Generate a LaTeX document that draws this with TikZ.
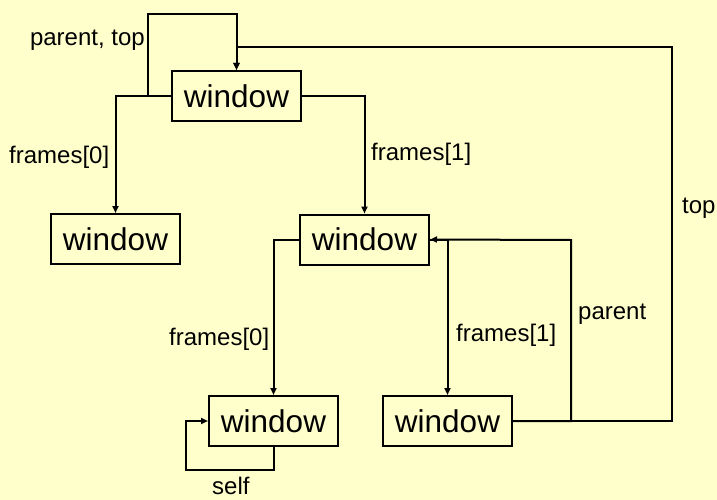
\documentclass[tikz,border=0pt]{standalone}
\usepackage{fontspec}
\setmainfont{Liberation Sans}
\usetikzlibrary{arrows.meta}
\definecolor{bgyellow}{HTML}{FFFFCC}
\begin{document}
\begin{tikzpicture}[x=1pt,y=-1pt,
  win/.style={draw,line width=2pt,minimum width=129pt,minimum height=50pt,inner sep=0pt,font=\fontsize{31.5}{36}\selectfont},
  lbl/.style={inner sep=0pt,anchor=base west,font=\fontsize{24}{28}\selectfont},
  conn/.style={line width=2pt},
  arr/.style={conn,-{Triangle[width=6pt,length=7pt]}}]
\fill[bgyellow] (0,0) rectangle (717,500);
\useasboundingbox (0,0) rectangle (717,500);
\clip (0,0) rectangle (717,500);
\node[win] (T) at (236.5,96) {window};
\node[win] (L) at (115.5,239) {window};
\node[win] (M) at (364.5,239.5) {window};
\node[win] (BL) at (273.5,421) {window};
\node[win] (BR) at (447.5,421) {window};
\coordinate (pa) at (148,96);
\coordinate (pb) at (148,14);
\coordinate (tp) at (672,47);
\coordinate (pp) at (571,240);
\coordinate (sl) at (186,470);
\draw[arr] (T.west) -| (L.north);
\draw[arr] (T.east) -| (M.north);
\draw[arr] (M.west) -| (BL.north);
\draw[arr] (M.east) -| (BR.north);
\draw[arr] (BR.east) -| (pp) -- (M.east);
\draw[arr] (BR.east) -| (tp) -| (T.north);
\draw[arr] (pa) -- (pb) -| (T.north);
\draw[arr] (BL.south) |- (sl) |- (BL.west);
\node[lbl,anchor=base east] (l1) at (145,46) {parent, top};
\node[lbl] (l2) at (9,163) {frames[0]};
\node[lbl] (l3) at (371,160) {frames[1]};
\node[lbl] (l4) at (682,213) {top};
\node[lbl] (l5) at (578,319) {parent};
\node[lbl] (l6) at (456,341) {frames[1]};
\node[lbl] (l7) at (169,345) {frames[0]};
\node[lbl] (l8) at (212,494) {self};
\end{tikzpicture}
\end{document}
